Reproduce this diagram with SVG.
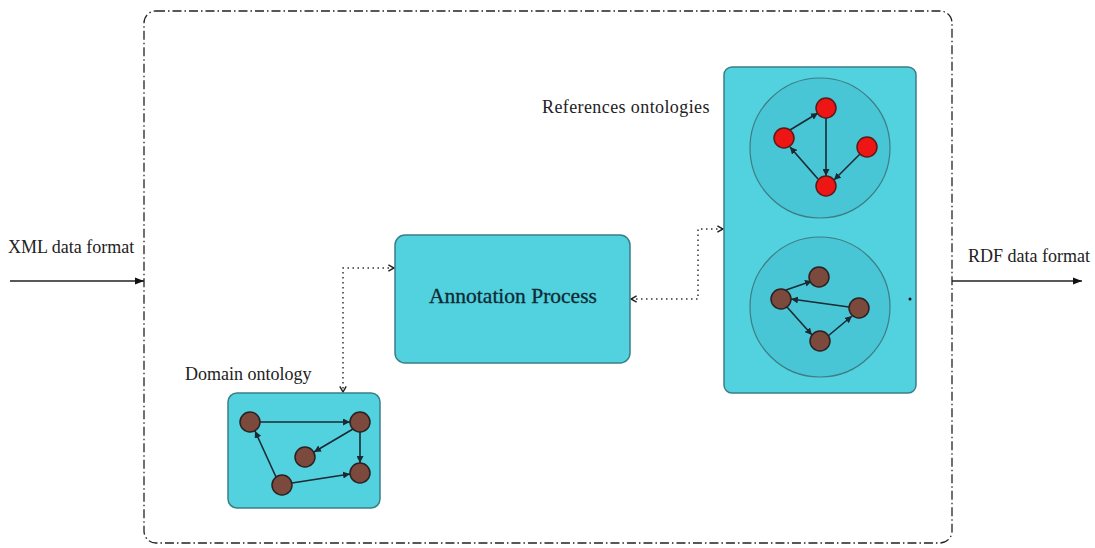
<svg xmlns="http://www.w3.org/2000/svg" width="1095" height="548" viewBox="0 0 1095 548">
<style>
.lbl{font-family:"Liberation Serif","Times New Roman",serif;fill:#222;font-size:18px}
.box{fill:#52D1DE;stroke:#3b7f86;stroke-width:1.5}
.ring{fill:#48C6D5;stroke:#3e7d83;stroke-width:1.2}
.red{fill:#EE1515;stroke:#5a1a1a;stroke-width:1.5}
.brn{fill:#7B4A3C;stroke:#2c2020;stroke-width:1.5}
.edge{stroke:#1a2a33;stroke-width:1.6;fill:none;marker-end:url(#ah)}
.dot{stroke:#333;stroke-width:1.5;fill:none;stroke-dasharray:1.5 3.5}
</style>
<defs>
<marker id="ah" viewBox="0 0 10 10" refX="10" refY="5" markerWidth="7" markerHeight="7" orient="auto" markerUnits="userSpaceOnUse"><path d="M0,0 L10,5 L0,10 z" fill="#1a2a33"/></marker>
<marker id="big" viewBox="0 0 10 10" refX="10" refY="5" markerWidth="9" markerHeight="9" orient="auto" markerUnits="userSpaceOnUse"><path d="M0,1 L10,5 L0,9 z" fill="#111"/></marker>
<marker id="chev" viewBox="0 0 10 10" refX="9" refY="5" markerWidth="8" markerHeight="8" orient="auto-start-reverse" markerUnits="userSpaceOnUse"><path d="M2,1 L9,5 L2,9" fill="none" stroke="#222" stroke-width="1.8"/></marker>
</defs>
<rect width="1095" height="548" fill="#fff"/>
<g id="boundary">
<rect x="144" y="11" width="808" height="532" rx="12" fill="none" stroke="#222" stroke-width="1.3" stroke-dasharray="9 3 1.5 3"/>
</g>
<g id="connectors">
<line x1="10" y1="281" x2="144" y2="281" stroke="#222" stroke-width="1.4" marker-end="url(#big)"/>
<line x1="952" y1="281" x2="1082" y2="281" stroke="#222" stroke-width="1.4" marker-end="url(#big)"/>
<path class="dot" d="M394,268 H343 V392" marker-start="url(#chev)" marker-end="url(#chev)"/>
<path class="dot" d="M631,299 H698 V229 H723" marker-start="url(#chev)" marker-end="url(#chev)"/>
</g>
<g id="labels">
<text class="lbl" x="8" y="253">XML data format</text>
<text class="lbl" x="968" y="262">RDF data format</text>
<text class="lbl" x="185" y="380">Domain ontology</text>
<text class="lbl" x="542" y="113" style="letter-spacing:0.4px">References ontologies</text>
</g>
<g id="annotation-process">
<rect class="box" x="395" y="235" width="235" height="128" rx="10"/>
<text x="513" y="303" text-anchor="middle" style="font-family:'Liberation Serif','Times New Roman',serif;font-size:21.5px;fill:#0d2a33;stroke:#0d2a33;stroke-width:0.3">Annotation Process</text>
</g>
<g id="domain-ontology">
<rect class="box" x="228" y="393" width="152" height="115" rx="9"/>
<line class="edge" x1="260" y1="422" x2="350" y2="422"/>
<line class="edge" x1="353" y1="429" x2="314" y2="452"/>
<line class="edge" x1="360" y1="432" x2="360" y2="463"/>
<line class="edge" x1="276" y1="477" x2="255" y2="431"/>
<line class="edge" x1="292" y1="483" x2="350" y2="474"/>
<circle class="brn" cx="250" cy="422" r="10"/>
<circle class="brn" cx="360" cy="422" r="10"/>
<circle class="brn" cx="305" cy="457" r="10"/>
<circle class="brn" cx="360" cy="473" r="10"/>
<circle class="brn" cx="282" cy="485" r="10"/>
</g>
<g id="references-ontologies">
<rect class="box" x="724" y="67" width="192" height="326" rx="8"/>
<circle class="ring" cx="820" cy="148" r="70"/>
<circle class="ring" cx="820" cy="307" r="70"/>
<line class="edge" x1="790" y1="130" x2="818" y2="113"/>
<line class="edge" x1="826" y1="118" x2="826" y2="176"/>
<line class="edge" x1="860" y1="154" x2="834" y2="180"/>
<line class="edge" x1="818" y1="179" x2="790" y2="147"/>
<circle class="red" cx="826" cy="108" r="10"/>
<circle class="red" cx="784" cy="138" r="10"/>
<circle class="red" cx="867" cy="147" r="10"/>
<circle class="red" cx="826" cy="186" r="10"/>
<line class="edge" x1="786" y1="290" x2="812" y2="281"/>
<line class="edge" x1="849" y1="307" x2="791" y2="299"/>
<line class="edge" x1="787" y1="307" x2="812" y2="335"/>
<line class="edge" x1="828" y1="336" x2="852" y2="316"/>
<circle class="brn" cx="819" cy="277" r="10"/>
<circle class="brn" cx="781" cy="299" r="10"/>
<circle class="brn" cx="859" cy="308" r="10"/>
<circle class="brn" cx="820" cy="341" r="10"/>
<circle cx="910" cy="299" r="1.5" fill="#111"/>
</g>
</svg>
